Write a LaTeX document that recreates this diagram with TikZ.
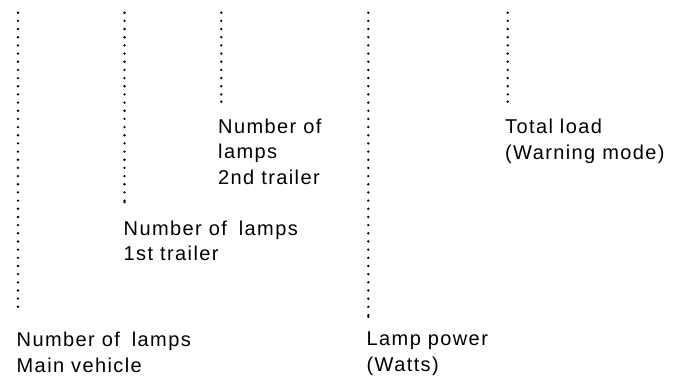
\documentclass[tikz,border=0pt]{standalone}
\usepackage{fontspec}
\setmainfont{Liberation Sans}[LetterSpace=7]
\begin{document}
\begin{tikzpicture}[x=1pt,y=-1pt,
  dotline/.style={line width=2.6pt, line cap=round, dash pattern=on 0pt off 8.17pt},
  enddot/.style={fill=black},
  lbl/.style={anchor=base west, inner sep=0pt, align=left, font=\fontsize{20}{25.7}\selectfont}]
\useasboundingbox (0,0) rectangle (682,376);
% dotted guide lines
\coordinate (a1) at (18,12.7);    \coordinate (a2) at (18,306.7);
\coordinate (b1) at (124.5,12.7); \coordinate (b2) at (124.5,202);
\coordinate (c1) at (221.3,12.7); \coordinate (c2) at (221.3,101.7);
\coordinate (d1) at (368.3,12.7); \coordinate (d2) at (368.3,316.7);
\coordinate (e1) at (507.7,12.7); \coordinate (e2) at (507.7,101.7);
\foreach \p in {a,b,c,d,e}{
  \draw[dotline] (\p1) -- (\p2);
  \fill[enddot] (\p2) circle (1.3pt);
}
% labels (base anchor = baseline of the last line)
\node[lbl] (t1) at (16.5,372) {Number of\hspace{0.6em}lamps\\Main vehicle};
\node[lbl] (t2) at (123.5,260.7) {Number of\hspace{0.6em}lamps\\1st trailer};
\node[lbl] (t3) at (218,184.4) {Number of\\lamps\\2nd trailer};
\node[lbl] (t4) at (505,159) {Total load\\(Warning mode)};
\node[lbl] (t5) at (366.5,371.5) {Lamp power\\(Watts)};
\end{tikzpicture}
\end{document}
